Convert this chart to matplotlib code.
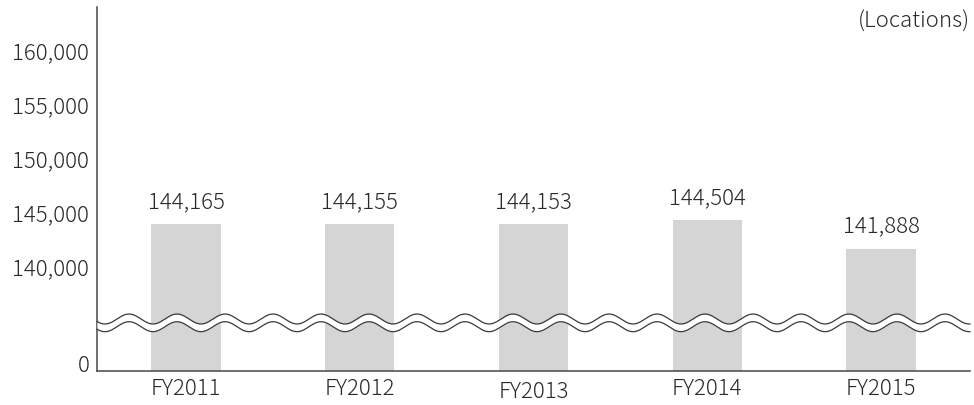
import matplotlib
matplotlib.use('Agg')
import matplotlib.pyplot as plt
import matplotlib.transforms as mtransforms
from matplotlib import font_manager
import numpy as np

years = ['FY2011', 'FY2012', 'FY2013', 'FY2014', 'FY2015']
locations = [144165, 144155, 144153, 144504, 141888]
yticks = [0, 140000, 145000, 150000, 155000, 160000]
unit_label = '(Locations)'

cjk = sorted({(f.name, f.weight, f.fname) for f in font_manager.fontManager.ttflist
              if 'CJK' in f.name and 'JP' in f.name}, key=str)
print(cjk)

plt.rcParams['font.family'] = ['Noto Sans CJK JP', 'DejaVu Sans']
plt.rcParams['font.weight'] = 'light'
text_col = '#2b2828'
bar_col = '#d5d5d5'
fs = 16

# broken axis: values above the break are shifted down, below it squeezed
OFFSET = 130570
JOIN_T = 4400
JOIN_V = JOIN_T + OFFSET


def forward(v):
    v = np.asarray(v, dtype=float)
    return np.where(v >= JOIN_V, v - OFFSET, v * JOIN_T / JOIN_V)


def inverse(t):
    t = np.asarray(t, dtype=float)
    return np.where(t >= JOIN_T, t + OFFSET, t * JOIN_V / JOIN_T)


fig = plt.figure(figsize=(9.74, 4.06), dpi=100)
ax = fig.add_axes([97 / 974, 1 - 372 / 406, 873 / 974, 364 / 406])
ax.set_yscale('function', functions=(forward, inverse))

x = np.arange(len(years))
ax.bar(x, locations, width=0.40, color=bar_col, zorder=1)
for xi, v in zip(x, locations):
    ax.annotate(f'{v:,}', (xi, v), xytext=(0, 16.5), textcoords='offset points',
                ha='center', va='center', fontsize=fs, color=text_col)

ax.set_xlim(-0.512, 4.512)
ax.set_ylim(0, 164210)
ax.set_xticks(x)
ax.set_xticklabels(years)
ax.set_yticks(yticks)
ax.set_yticklabels([f'{t:,}' for t in yticks])
ax.tick_params(axis='both', length=0, labelsize=fs, labelcolor=text_col)
ax.tick_params(axis='y', pad=5.5)
ax.tick_params(axis='x', pad=4.5)

for s in ['top', 'right']:
    ax.spines[s].set_visible(False)
for s in ['left', 'bottom']:
    ax.spines[s].set_color('#4a4646')
    ax.spines[s].set_linewidth(1.1)

# nudge tick labels like the original
for tick in ax.yaxis.get_major_ticks():
    dy = 8 if tick.label1.get_text() == '0' else 3
    off = mtransforms.ScaledTranslation(0, dy / 100, fig.dpi_scale_trans)
    tick.label1.set_transform(tick.label1.get_transform() + off)
xt = ax.xaxis.get_major_ticks()[2]
xt.label1.set_transform(xt.label1.get_transform() +
                        mtransforms.ScaledTranslation(0, -3 / 100, fig.dpi_scale_trans))

# wavy break marks (drawn in axes pixels)
h_px = 364.0
w_px = 873.0
xs = np.linspace(0, 1, 800)
phase = 2 * np.pi * (xs * w_px + 4) / 48.0
upper = (372 - 320 - 5 * np.sin(phase)) / h_px
lower = (372 - 327.7 - 5 * np.sin(phase)) / h_px
ax.fill_between(xs, lower, upper, color='white', transform=ax.transAxes,
                zorder=5, clip_on=False, lw=0)
ax.plot(xs, upper, color='#3c3838', lw=0.9, transform=ax.transAxes,
        zorder=6, clip_on=False)
ax.plot(xs, lower, color='#3c3838', lw=0.9, transform=ax.transAxes,
        zorder=6, clip_on=False)

fig.text(970 / 974, 1 - 22 / 406, unit_label, ha='right', va='center',
         fontsize=fs, color=text_col)

fig.savefig('out.png', dpi=100)
